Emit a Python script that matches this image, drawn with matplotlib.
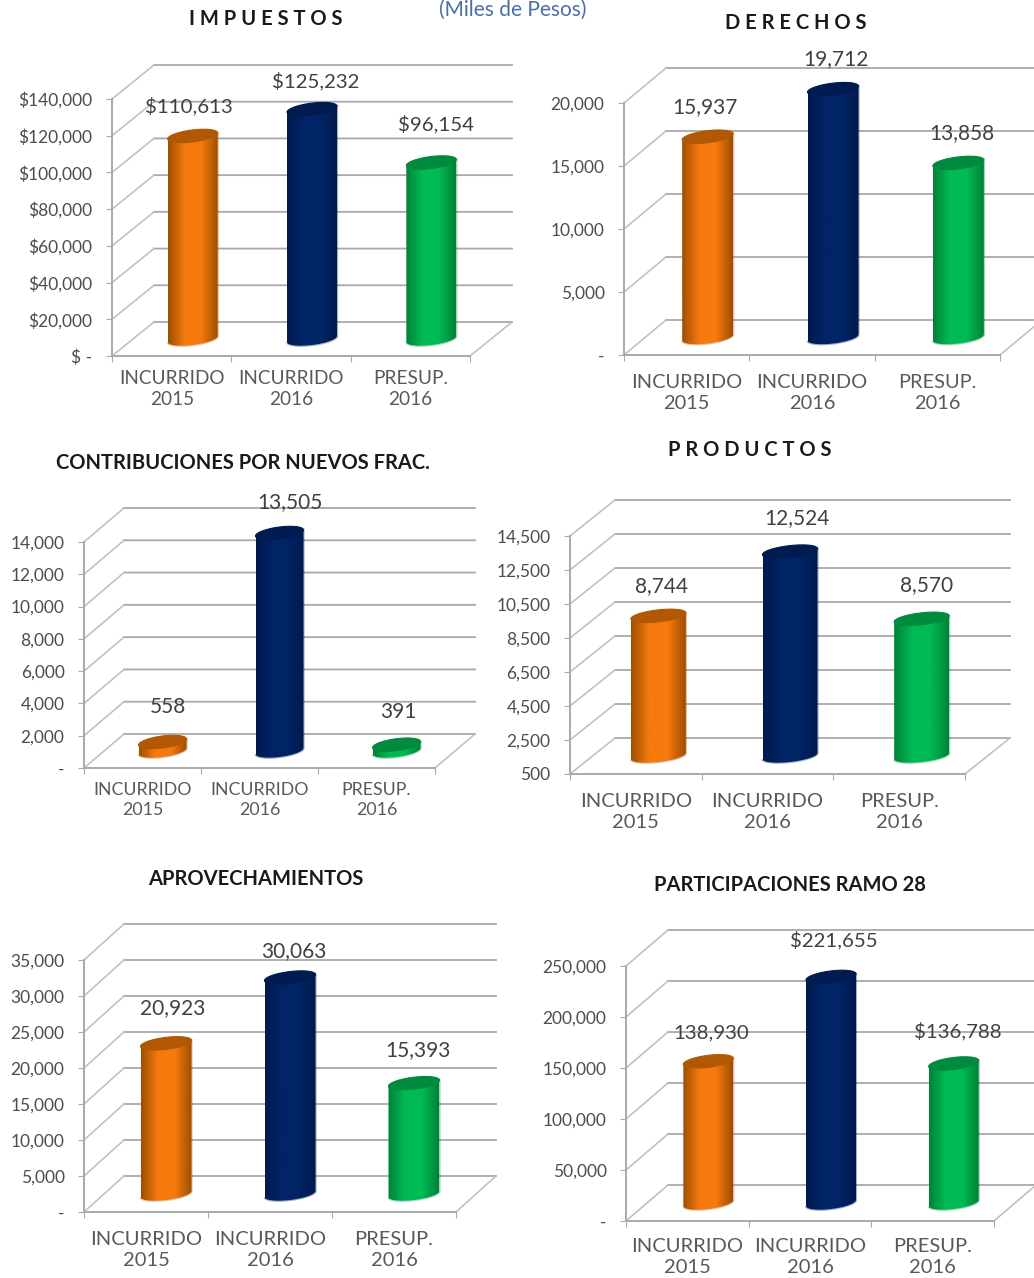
#!/usr/bin/env python3

# Six cylinder charts of income, drawn in a fake 3D box.

# Import numpy.
import numpy as np

# Import matplotlib for plotting.
import matplotlib
matplotlib.use('Agg')
import matplotlib.pyplot as plt
from matplotlib.colors import LinearSegmentedColormap
from matplotlib.patches import PathPatch, Polygon
from matplotlib.path import Path
from matplotlib.transforms import Affine2D

# Categories, shared by all panels.
categories = ['INCURRIDO\n2015', 'INCURRIDO\n2016', 'PRESUP.\n2016']

# Values of each panel.
impuestos = [110613, 125232, 96154]
derechos = [15937, 19712, 13858]
contribuciones = [558, 13505, 391]
productos = [8744, 12524, 8570]
aprovechamientos = [20923, 30063, 15393]
participaciones = [138930, 221655, 136788]

# Value labels.
impuestos_labels = ['$110,613', '$125,232', '$96,154']
derechos_labels = ['15,937', '19,712', '13,858']
contribuciones_labels = ['558', '13,505', '391']
productos_labels = ['8,744', '12,524', '8,570']
aprovechamientos_labels = ['20,923', '30,063', '15,393']
participaciones_labels = ['138,930', '$221,655', '$136,788']

# Axis ticks.
impuestos_ticks = [0, 20000, 40000, 60000, 80000, 100000, 120000, 140000]
impuestos_ticklabels = ['$ -', '$20,000', '$40,000', '$60,000', '$80,000', '$100,000', '$120,000', '$140,000']
derechos_ticks = [0, 5000, 10000, 15000, 20000]
derechos_ticklabels = ['-', '5,000', '10,000', '15,000', '20,000']
contribuciones_ticks = [0, 2000, 4000, 6000, 8000, 10000, 12000, 14000]
contribuciones_ticklabels = ['-', '2,000', '4,000', '6,000', '8,000', '10,000', '12,000', '14,000']
productos_ticks = [500, 2500, 4500, 6500, 8500, 10500, 12500, 14500]
productos_ticklabels = ['500', '2,500', '4,500', '6,500', '8,500', '10,500', '12,500', '14,500']
aprovechamientos_ticks = [0, 5000, 10000, 15000, 20000, 25000, 30000, 35000]
aprovechamientos_ticklabels = ['-', '5,000', '10,000', '15,000', '20,000', '25,000', '30,000', '35,000']
participaciones_ticks = [0, 50000, 100000, 150000, 200000, 250000]
participaciones_ticklabels = ['-', '50,000', '100,000', '150,000', '200,000', '250,000']

# Titles.
titles = ['I M P U E S T O S', 'D E R E C H O S', 'CONTRIBUCIONES POR NUEVOS FRAC.',
          'P R O D U C T O S', 'APROVECHAMIENTOS', 'PARTICIPACIONES RAMO 28']

# Figure size in pixels.
W, H = 1034, 1278

# Bar colours: edge, centre, top cap.
bar_colors = [('#a04f02', '#f67a0e', '#b25805'),
              ('#001a4e', '#002466', '#001b50'),
              ('#008338', '#00ba55', '#008a3e')]

# Layout of each panel in pixels.
panels = [
    dict(values=impuestos, labels=impuestos_labels, ticks=impuestos_ticks, ticklabels=impuestos_ticklabels,
         left=112, right=470, bottom=356, top=99, dx=42, dy=34, bar=50, cat_fs=13.7, cat_pad=10, val_fs=14.7,
         offsets=[(-4, 30), (4, 28), (5, 38)], title_xy=(266, 19)),
    dict(values=derechos, labels=derechos_labels, ticks=derechos_ticks, ticklabels=derechos_ticklabels,
         left=624, right=1000, bottom=355, top=103, dx=42, dy=35, bar=51, cat_fs=14.4, cat_pad=13.5, val_fs=15,
         offsets=[(-3, 30), (3, 30), (3, 30)], title_xy=(796, 23)),
    dict(values=contribuciones, labels=contribuciones_labels, ticks=contribuciones_ticks,
         ticklabels=contribuciones_ticklabels,
         left=84, right=435, bottom=768, top=542, dx=40, dy=34, bar=48, cat_fs=12.8, cat_pad=10, val_fs=15,
         offsets=[(5, 35), (10, 31), (2, 33)], title_xy=(243, 463)),
    dict(values=productos, labels=productos_labels, ticks=productos_ticks, ticklabels=productos_ticklabels,
         left=570, right=965, bottom=774, top=536, dx=45, dy=36, bar=55, cat_fs=14.5, cat_pad=13.5, val_fs=15,
         offsets=[(3, 30), (7, 33), (5, 34)], title_xy=(750, 450)),
    dict(values=aprovechamientos, labels=aprovechamientos_labels, ticks=aprovechamientos_ticks,
         ticklabels=aprovechamientos_ticklabels,
         left=84, right=456, bottom=1212, top=960, dx=40, dy=36, bar=51, cat_fs=14.5, cat_pad=13.5, val_fs=15,
         offsets=[(7, 35), (4, 26), (4, 33)], title_xy=(256, 879)),
    dict(values=participaciones, labels=participaciones_labels, ticks=participaciones_ticks,
         ticklabels=participaciones_ticklabels,
         left=626, right=994, bottom=1221, top=966, dx=42, dy=36, bar=50, cat_fs=14.5, cat_pad=12, val_fs=14.7,
         offsets=[(3, 28), (3, 37), (4, 32)], title_xy=(790, 885)),
]

GRID = '#a9a9a9'
TEXT = '#4d4d4d'

plt.rcParams['font.family'] = ['Lato', 'DejaVu Sans']

fig = plt.figure(figsize=(W / 100, H / 100), dpi=100)


# Draw one cylinder.
def draw_cylinder(ax, mid, x, value, ymin, half, height_px, span, colors):
    # Ellipse sizes in data units.
    b = 6.0 * span / height_px
    tilt = 3.0 * span / height_px
    t = np.linspace(0, 2 * np.pi, 80)
    ex = half * np.cos(t)
    ey = b * np.sin(t) + tilt * np.cos(t)

    # Silhouette: lower half of bottom ellipse, then the sides up to the top.
    low = t[t >= np.pi]
    lx = x + half * np.cos(low)
    ly = ymin + b * np.sin(low) + tilt * np.cos(low)
    sx = np.concatenate([lx, [x + half, x - half]])
    sy = np.concatenate([ly, [value + tilt, value - tilt]])
    outline = Path(np.column_stack([sx, sy]))

    # Pale fringe round the bar.
    ax.add_patch(PathPatch(outline, transform=mid, facecolor='none', edgecolor=colors[0],
                           alpha=0.35, lw=1.6, clip_on=False, zorder=3))

    # Body with a horizontal gradient.
    cmap = LinearSegmentedColormap.from_list('bar', [colors[0], colors[1], colors[1], colors[0]])
    grad = np.linspace(0, 1, 64).reshape(1, -1)
    im = ax.imshow(grad, cmap=cmap, aspect='auto', interpolation='bilinear',
                   extent=(x - half, x + half, ymin - 3 * b, value + 3 * b),
                   transform=mid, zorder=4)
    # The bar sticks out above the axes box, so only the silhouette may clip it.
    im.set_clip_box(fig.bbox)
    im.set_clip_path(outline, transform=mid)

    # Top cap.
    ax.add_patch(Polygon(np.column_stack([x + ex, value + ey]), closed=True, transform=mid,
                         facecolor=colors[2], edgecolor=colors[2], lw=0.8, clip_on=False, zorder=5))


# Draw the panels.
for p, title in zip(panels, titles):
    ax = fig.add_axes([p['left'] / W, 1 - p['bottom'] / H,
                       (p['right'] - p['left']) / W, (p['bottom'] - p['top']) / H])
    ax.patch.set_alpha(0)
    ymin, ymax = p['ticks'][0], p['ticks'][-1]
    span = ymax - ymin
    height_px = p['bottom'] - p['top']
    width_px = p['right'] - p['left']

    # Depth offsets in pixels.
    back = ax.transData + Affine2D().translate(p['dx'], p['dy'])
    mid = ax.transData + Affine2D().translate(p['dx'] / 2, p['dy'] / 2)

    # Back wall lines and the side wall diagonals.
    for v in p['ticks']:
        line, = ax.plot([0, 3], [v, v], color=GRID, lw=1.3, transform=back, clip_on=False, zorder=1)
        line.set_snap(False)
        side, = ax.plot([0, p['dx'] * 3 / width_px], [v, v + p['dy'] * span / height_px],
                        color='#bdbdbd', lw=1.1, clip_on=False, zorder=1)
        side.set_snap(False)
    # Right edge of the floor.
    ax.plot([3, 3 + p['dx'] * 3 / width_px], [ymin, ymin + p['dy'] * span / height_px],
            color='#bdbdbd', lw=1.1, clip_on=False, zorder=1)

    # Bars.
    half = p['bar'] / 2 * 3 / width_px
    for i, (v, label, off) in enumerate(zip(p['values'], p['labels'], p['offsets'])):
        draw_cylinder(ax, mid, i + 0.5, v, ymin, half, height_px, span, bar_colors[i])
        ax.annotate(label, xy=(i + 0.5, v), xycoords=mid, xytext=(off[0] * 0.72, off[1] * 0.72),
                    textcoords='offset points', ha='center', va='center', fontsize=p['val_fs'],
                    color='#404040', zorder=6)

    ax.set_xlim(0, 3)
    ax.set_ylim(ymin, ymax)

    # Axes.
    for name in ['top', 'right']:
        ax.spines[name].set_visible(False)
    for name in ['left', 'bottom']:
        ax.spines[name].set_color(GRID)
        ax.spines[name].set_linewidth(1.4)
    ax.set_yticks(p['ticks'])
    ax.set_yticklabels(p['ticklabels'], fontsize=12.5, color=TEXT)
    ax.set_xticks([0, 1, 2, 3])
    ax.set_xticklabels([])
    ax.set_xticks([0.5, 1.5, 2.5], minor=True)
    ax.set_xticklabels(categories, minor=True, fontsize=p['cat_fs'], color='#595959', linespacing=1.28)
    ax.tick_params(axis='y', length=4, color=GRID, pad=10)
    ax.tick_params(axis='x', which='major', length=4, color=GRID, direction='out')
    ax.tick_params(axis='x', which='minor', length=0, pad=p['cat_pad'])

    # Panel title.
    fig.text(p['title_xy'][0] / W, 1 - p['title_xy'][1] / H, title, ha='center', va='center',
             fontsize=14.5, fontweight='bold', color='#1a1a1a')

# Subtitle at the very top.
fig.text(513 / W, 1 - 10 / H, '(Miles de Pesos)', ha='center', va='center', fontsize=15, color='#4a6fa5')

# Save figure.
fig.savefig('out.png', dpi=100)
plt.close(fig)
